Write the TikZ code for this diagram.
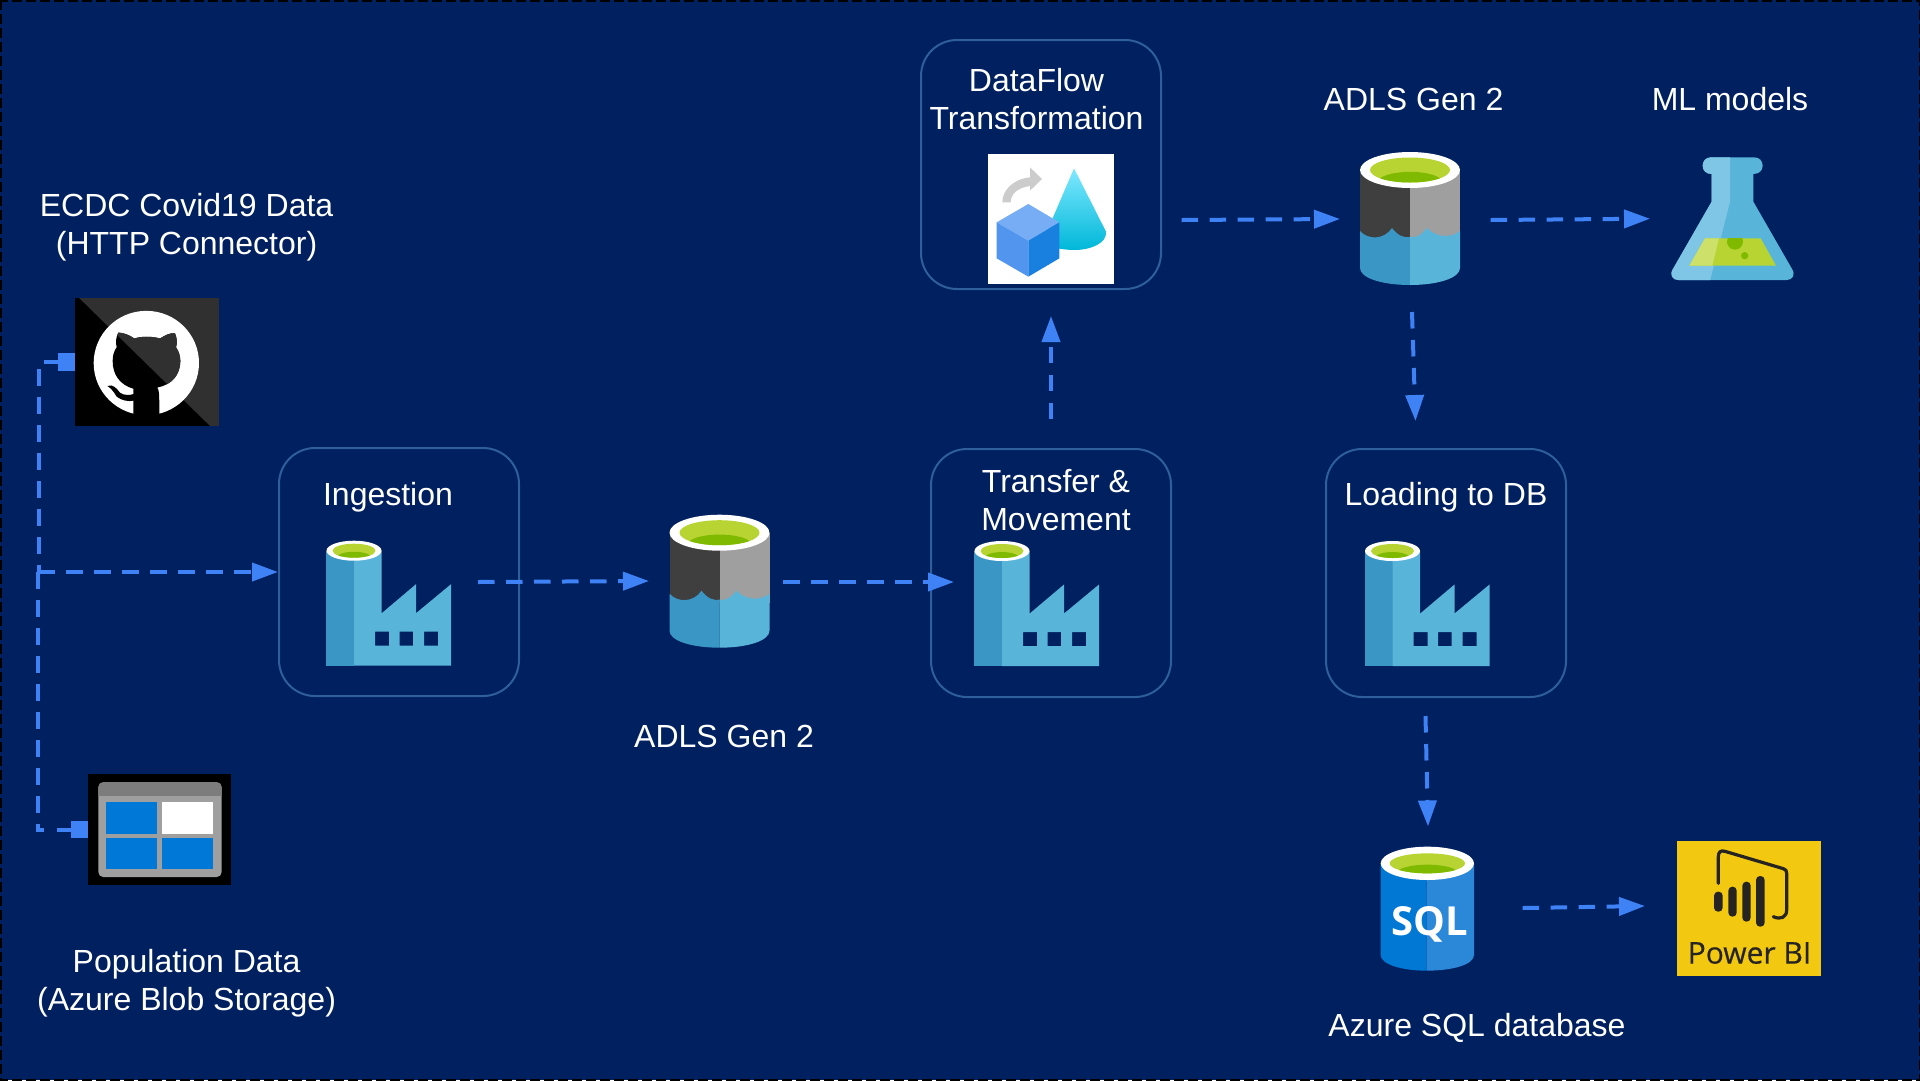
\documentclass[tikz,border=0pt]{standalone}
\usepackage{fontspec}
\setmainfont{Liberation Sans}
\newfontfamily\iconfont{Open Sans}
\newfontfamily\pbifont[FakeBold=0.4]{Open Sans}
\usetikzlibrary{arrows.meta,shapes.geometric}
\definecolor{bgblue}{HTML}{002060}
\definecolor{boxline}{HTML}{2F5F9A}
\definecolor{flowblue}{HTML}{3F82F5}
\definecolor{waterd}{HTML}{3A96C4}
\definecolor{waterl}{HTML}{59B4D9}
\definecolor{greenl}{HTML}{B8D432}
\definecolor{greend}{HTML}{7FBA00}
\definecolor{greyd}{HTML}{3F3F3F}
\definecolor{greyl}{HTML}{9F9F9F}
\definecolor{flaskl}{HTML}{7FC6E6}
\definecolor{liql}{HTML}{CDE06A}
\definecolor{msblue}{HTML}{0078D7}
\definecolor{sqll}{HTML}{2B88D8}
\definecolor{sqld}{HTML}{0078D4}
\definecolor{pbi}{HTML}{F2C811}
\definecolor{pbid}{HTML}{252423}
\definecolor{ghdark}{HTML}{303030}
\definecolor{conet}{HTML}{7FE9FF}
\definecolor{conem}{HTML}{5FE0FB}
\definecolor{coneb}{HTML}{00B7D9}
\definecolor{cubet}{HTML}{76ADF5}
\definecolor{cubel}{HTML}{5195EE}
\definecolor{cuber}{HTML}{1A80E0}
\tikzset{
  stagebox/.style={draw=boxline,line width=2pt,rounded corners=36pt,inner sep=0pt,outer sep=0pt,anchor=north west},
  label/.style={text=white,align=center,font=\fontsize{32}{38}\selectfont,inner sep=0pt},
  iconbox/.style={inner sep=0pt,outer sep=0pt,anchor=north west},
  flow/.style={draw=flowblue,line width=4pt,dash pattern=on 16.5pt off 11.5pt,-{Triangle[length=26pt,width=18pt,flowblue]}},
  plainflow/.style={draw=flowblue,line width=4pt,dash pattern=on 16.5pt off 11.5pt},
  stubline/.style={draw=flowblue,line width=4pt},
  port/.style={fill=flowblue,inner sep=0pt,outer sep=0pt,minimum width=17pt,minimum height=17.5pt}
}
% ring on top of a cylinder: outer rx, ry, inner rx, ry
\newcommand{\ringtop}[4]{%
  \fill[white] (0,0) ellipse [x radius=#1,y radius=#2];
  \fill[greenl] (0,0) ellipse [x radius=#3,y radius=#4];
  \begin{scope}
    \clip (0,0) ellipse [x radius=#3,y radius=#4];
    \fill[greend] (0,#4*0.95) ellipse [x radius=#3*0.8,y radius=#4*0.8];
  \end{scope}}
\newcommand{\adlsicon}[3]{%
  \begin{scope}[shift={(#1,#2)}]
    \node[iconbox,minimum width=100pt,minimum height=132pt] (#3) at (-50,-18) {};
    \fill[greyd] (-50,0) rectangle (0,70);
    \fill[greyl] (0,0) rectangle (50,70);
    \fill[waterd] (-50,61) .. controls (-42,70) and (-26,70) .. (-18,58) .. controls (-12,66) and (-6,68) .. (0,67) -- (0,115) .. controls (-28,115) and (-50,108) .. (-50,98) -- cycle;
    \fill[waterl] (0,67) .. controls (8,68) and (12,64) .. (17,58) .. controls (26,68) and (42,68) .. (50,61) -- (50,98) .. controls (50,108) and (28,115) .. (0,115) -- cycle;
    \ringtop{50}{18}{40}{12.5}
  \end{scope}}
\newcommand{\factoryicon}[3]{%
  \begin{scope}[shift={(#1,#2)}]
    \node[iconbox,minimum width=125pt,minimum height=125pt] (#3) at (-28,-10) {};
    \fill[waterd] (-28,0) rectangle (0,115);
    \fill[waterl,even odd rule] (0,0) -- (27.7,0) -- (27.7,62.5) -- (62,33.5) -- (62,62.5) -- (97,33.5) -- (97,115) -- (0,115) -- cycle
      (21,81) rectangle (35,95) (45.6,81) rectangle (59,95) (70,81) rectangle (84,95);
    \ringtop{27.5}{10}{21.5}{7}
  \end{scope}}
\begin{document}
\begin{tikzpicture}[x=1pt,y=-1pt]
\useasboundingbox (0,0) rectangle (1920,1080);
\fill[bgblue] (0,0) rectangle (1920,1080);
\draw[black,line width=3pt,dash pattern=on 10pt off 4pt] (0,0) rectangle (1920,1080);

% stage boxes
\node[stagebox,minimum width=240pt,minimum height=248pt] (ingest) at (279,448) {};
\node[stagebox,minimum width=240pt,minimum height=248pt] (transfer) at (931,449) {};
\node[stagebox,minimum width=240pt,minimum height=248pt] (loading) at (1326,449) {};
\node[stagebox,minimum width=240pt,minimum height=249pt] (dataflow) at (921,40) {};

% labels
\node[label] (lblecdc) at (186.6,227.5) {ECDC Covid19 Data\\(HTTP Connector)};
\node[label] (lblpop) at (186.6,983.5) {Population Data\\(Azure Blob Storage)};
\node[label] (lblingest) at (388,497.5) {Ingestion};
\node[label] (lbltransfer) at (1056,500) {Transfer \&\\Movement};
\node[label] (lblloading) at (1446,497.5) {Loading to DB};
\node[label] (lbldataflow) at (1036.5,99) {DataFlow\\Transformation};
\node[label] (lbladlsa) at (724,736) {ADLS Gen 2};
\node[label] (lbladlsb) at (1413.5,99.5) {ADLS Gen 2};
\node[label] (lblml) at (1730,99) {ML models};
\node[label] (lblsql) at (1477,1027.5) {Azure SQL database};

% GitHub icon
\node[iconbox,minimum width=144pt,minimum height=127.7pt] (github) at (75.3,298.2) {};
\begin{scope}[shift={(0,280)},x=0.33333pt,y=-0.3954pt]
  \def\catpath{(400,345) -- (400,275) .. controls (360,265) and (338,240) .. (338,205) .. controls (338,190) and (342,180) .. (350,170) .. controls (347,160) and (347,145) .. (355,133) .. controls (370,133) and (390,140) .. (403,148) .. controls (425,142) and (455,142) .. (480,148) .. controls (495,140) and (510,133) .. (525,135) .. controls (532,150) and (532,160) .. (528,170) .. controls (538,182) and (541,195) .. (541,205) .. controls (541,240) and (515,265) .. (472,272) .. controls (478,280) and (478,290) .. (478,345) -- cycle
   (322,268) .. controls (340,262) and (350,275) .. (360,285) .. controls (370,292) and (390,292) .. (402,288) -- (402,305) .. controls (385,308) and (365,305) .. (350,295) .. controls (340,280) and (330,272) .. (322,268) -- cycle}
  \fill[black] (226,46) rectangle (657,369);
  \fill[ghdark] (238,46) -- (657,46) -- (657,369) -- (630,369) -- cycle;
  \fill[white] (439,210) ellipse [x radius=158,y radius=132];
  \fill[black] \catpath;
  \begin{scope}
    \clip \catpath;
    \fill[ghdark] (238,46) -- (657,46) -- (657,369) -- (630,369) -- cycle;
  \end{scope}
\end{scope}

% Blob storage icon
\node[iconbox,minimum width=143.5pt,minimum height=110.7pt] (blob) at (87.7,774.3) {};
\begin{scope}[shift={(0,280)},x=0.33333pt,y=-0.3954pt]
  \fill[black] (263,1250) rectangle (694,1530);
  \fill[greyl,rounded corners=5pt] (295,1270) rectangle (665,1510);
  \begin{scope}
    \clip (295,1270) rectangle (665,1303);
    \fill[gray!98!black,rounded corners=5pt] (295,1270) rectangle (665,1340);
  \end{scope}
  \fill[msblue] (317,1320) rectangle (471,1400);
  \fill[white] (487,1320) rectangle (640,1400);
  \fill[msblue] (317,1410) rectangle (471,1490);
  \fill[msblue] (487,1410) rectangle (640,1490);
\end{scope}

% Factories and lakes
\factoryicon{354}{550.7}{factorya}
\factoryicon{1002}{551}{factoryb}
\factoryicon{1392.5}{551}{factoryc}
\adlsicon{719.5}{532.7}{adlsa}
\adlsicon{1410}{170}{adlsb}

% Data flow icon
\node[iconbox,minimum width=126.5pt,minimum height=130pt] (dficon) at (987.7,154) {};
\begin{scope}[shift={(900,30)},x=0.33333pt,y=-0.33333pt]
  \fill[white] (263,372) rectangle (642,761);
  \shade[top color=conet,middle color=conem,bottom color=coneb] (522,415) -- (618,605) .. controls (622,640) and (570,660) .. (525,660) .. controls (480,660) and (440,650) .. (430,630) -- cycle;
  \fill[black!20] (307,517) .. controls (307,480) and (340,447) .. (390,442) -- (390,412) -- (426,447) -- (390,482) -- (390,468) .. controls (355,473) and (332,490) .. (332,517) -- cycle;
  \fill[cubet] (385,522) -- (478,577) -- (385,632) -- (290,577) -- cycle;
  \fill[cubel] (290,577) -- (385,632) -- (385,740) -- (290,685) -- cycle;
  \fill[cuber] (478,577) -- (385,632) -- (385,740) -- (478,685) -- cycle;
\end{scope}

% Flask
\node[iconbox,minimum width=124pt,minimum height=123pt] (flask) at (1671,157) {};
\begin{scope}[shift={(1340,140)},x=0.33333pt,y=-0.33333pt]
  \def\flaskpath{(1113,52) -- (1243,52) .. controls (1258,52) and (1268,63) .. (1268,77) .. controls (1268,91) and (1258,102) .. (1240,102) -- (1240,185) -- (1355,385) .. controls (1368,405) and (1358,420) .. (1340,420) -- (1015,420) .. controls (997,420) and (987,405) .. (1000,385) -- (1115,185) -- (1115,102) .. controls (1098,102) and (1088,91) .. (1088,77) .. controls (1088,63) and (1098,52) .. (1113,52) -- cycle}
  \fill[waterl] \flaskpath;
  \begin{scope}
    \clip \flaskpath;
    \fill[flaskl] (980,40) -- (1170,40) -- (1170,185) -- (1108,430) -- (980,430) -- cycle;
  \end{scope}
  \fill[greenl] (1095,295) -- (1262,295) -- (1308,377) -- (1048,377) -- cycle;
  \fill[liql] (1095,295) -- (1137,295) -- (1117,377) -- (1048,377) -- cycle;
  \begin{scope}
    \clip (1095,295) rectangle (1262,377);
    \fill[greend] (1185,305) circle [radius=24];
  \end{scope}
  \fill[greend] (1214,347) circle [radius=11];
\end{scope}

% SQL icon
\node[iconbox,minimum width=94pt,minimum height=125pt] (sql) at (1380.5,846) {};
\begin{scope}[shift={(1360,830)},x=0.33333pt,y=-0.33333pt]
  \fill[sqld] (62,100) -- (62,375) .. controls (62,403) and (125,422) .. (200,422) -- (200,100) -- cycle;
  \fill[sqll] (200,100) -- (342,100) -- (342,375) .. controls (342,403) and (280,422) .. (200,422) -- cycle;
  \fill[white] (202,100) ellipse [x radius=140,y radius=50];
  \fill[greenl] (202,100) ellipse [x radius=113,y radius=30];
  \begin{scope}
    \clip (202,100) ellipse [x radius=113,y radius=30];
    \fill[greend] (202,128) ellipse [x radius=90,y radius=24];
  \end{scope}
\end{scope}
\node[text=white,inner sep=0pt,font=\iconfont\bfseries\fontsize{40}{40}\selectfont] (sqltxt) at (1430,924) {SQL};

% Power BI icon
\node[iconbox,minimum width=144pt,minimum height=134.7pt] (powerbi) at (1676.7,841) {};
\begin{scope}[shift={(1360,830)},x=0.33333pt,y=-0.33333pt]
  \fill[pbi] (950,33) rectangle (1382,437);
  \draw[pbid,line width=3.2pt,line cap=round,line join=round] (1075,160) -- (1075,80) .. controls (1075,66) and (1082,60) .. (1095,64) -- (1270,116) .. controls (1278,119) and (1280,122) .. (1280,130) -- (1280,240) .. controls (1280,262) and (1262,270) .. (1240,260);
  \fill[pbid,rounded corners=4pt] (1062,185) rectangle (1088,245);
  \fill[pbid,rounded corners=4pt] (1105,170) rectangle (1130,260);
  \fill[pbid,rounded corners=4pt] (1147,155) rectangle (1172,275);
  \fill[pbid,rounded corners=4pt] (1188,138) rectangle (1214,290);
\end{scope}
\node[text=pbid,inner sep=0pt,font=\pbifont\fontsize{30}{30}\selectfont] (pbitxt) at (1749.5,953) {Power BI};

% Connector end points
\coordinate (ghstub) at (44,362);
\coordinate (ghtop) at (39.3,369);
\coordinate (junctiona) at (39.3,572);
\coordinate (junction) at (38,572);
\coordinate (blobcorner) at (38,829.6);
\coordinate (blobstuba) at (44,829.6);
\coordinate (blobstubb) at (57,829.6);
\node[port] (ghport) at (66.8,362) {};
\node[port] (blobport) at (79.2,829.6) {};
\coordinate (ingestin) at (278,572);
\coordinate (ingestout) at (478,582);
\coordinate (adlsain) at (649,581);
\coordinate (adlsaout) at (783,582);
\coordinate (transin) at (954,582);
\coordinate (transout) at (1051,419);
\coordinate (dfin) at (1051,316);
\coordinate (dfout) at (1181.7,220);
\coordinate (adlsbin) at (1340,219);
\coordinate (adlsbout) at (1490.7,220);
\coordinate (mlin) at (1650,218.7);
\coordinate (adlsbdown) at (1412,312);
\coordinate (loadin) at (1415.5,421);
\coordinate (loadout) at (1425.5,716);
\coordinate (sqlin) at (1428,826.5);
\coordinate (sqlout) at (1522.7,908);
\coordinate (pbiin) at (1645,906);

% Connectors
\draw[stubline] (ghport.west) -- (ghstub);
\draw[stubline] (blobport.west) -- (blobstubb);
\draw[plainflow] (ghtop) -- (junctiona);
\draw[plainflow] (junction) -- (blobcorner) -- (blobstuba);
\draw[flow] (junction) -- (ingestin);
\draw[flow] (ingestout) -- (adlsain);
\draw[flow] (adlsaout) -- (transin);
\draw[flow] (transout) -- (dfin);
\draw[flow] (dfout) -- (adlsbin);
\draw[flow] (adlsbout) -- (mlin);
\draw[flow] (adlsbdown) -- (loadin);
\draw[flow] (loadout) -- (sqlin);
\draw[flow] (sqlout) -- (pbiin);
\end{tikzpicture}
\end{document}
